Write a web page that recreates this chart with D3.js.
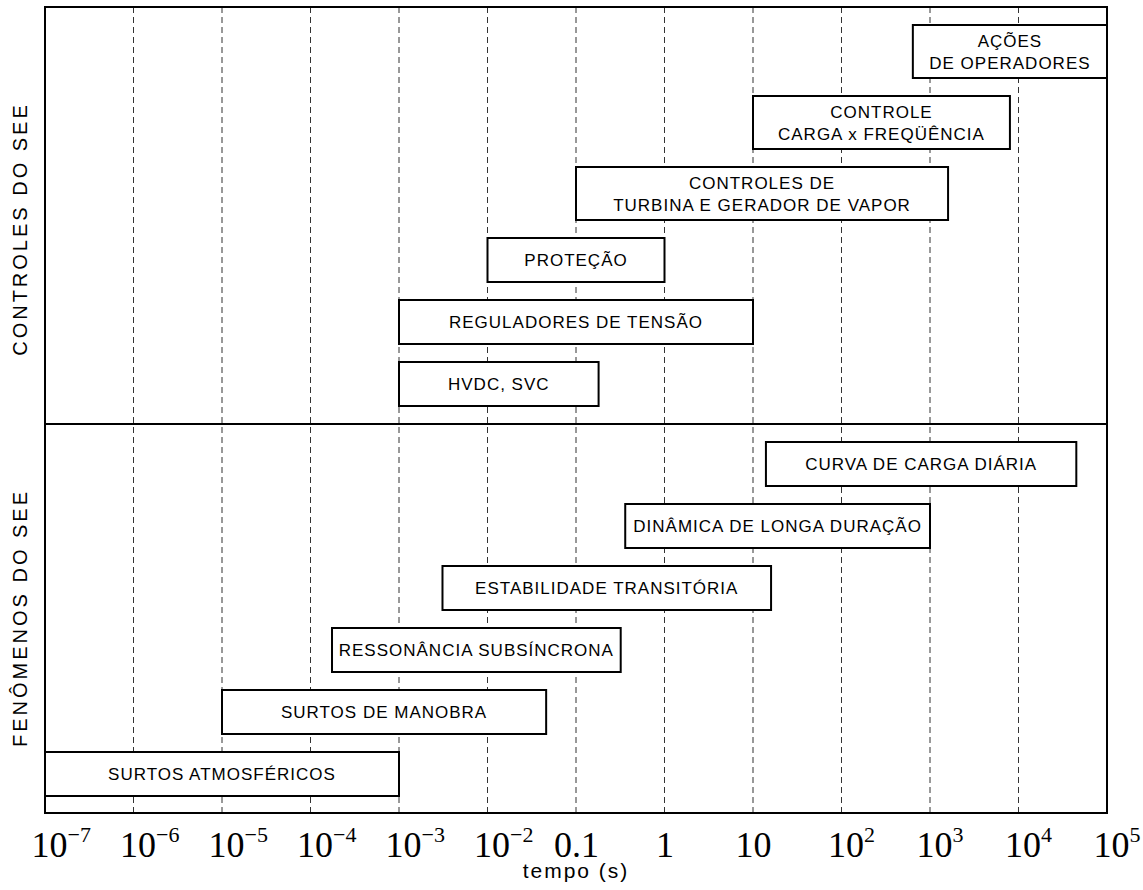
<!DOCTYPE html>
<html>
<head>
<meta charset="utf-8">
<script src="https://cdn.jsdelivr.net/npm/d3@7"></script>
<style>
  body { margin: 0; background: #fff; }
  .box-label { font-family: 'Liberation Sans', Arial, sans-serif; font-size: 17px; letter-spacing: 1px; fill: #000; }
  .side-label { font-family: 'Liberation Sans', Arial, sans-serif; font-size: 20px; letter-spacing: 3px; fill: #000; }
  .tick-label { font-family: 'Liberation Serif', 'Times New Roman', serif; font-size: 36px; fill: #000; }
  .axis-title { font-family: 'Liberation Sans', Arial, sans-serif; font-size: 21px; letter-spacing: 2px; fill: #000; }
</style>
</head>
<body>
<div id="chart"></div>
<script>
// tempo (s), escala logaritmica
const tickValues = [1e-7, 1e-6, 1e-5, 1e-4, 1e-3, 1e-2, 0.1, 1, 10, 1e2, 1e3, 1e4, 1e5]
const tickBase = ['10', '10', '10', '10', '10', '10', '0.1', '1', '10', '10', '10', '10', '10']
const tickExp = ['\u22127', '\u22126', '\u22125', '\u22124', '\u22123', '\u22122', '', '', '', '2', '3', '4', '5']

// controles do SEE (de cima para baixo)
const controlLabels = [
  ['AÇÕES', 'DE OPERADORES'],
  ['CONTROLE', 'CARGA x FREQÜÊNCIA'],
  ['CONTROLES DE', 'TURBINA E GERADOR DE VAPOR'],
  ['PROTEÇÃO'],
  ['REGULADORES DE TENSÃO'],
  ['HVDC, SVC']
]
const controlStart = [640, 10, 0.1, 0.01, 1e-3, 1e-3]
const controlEnd = [1e5, 8000, 1600, 1, 10, 0.18]

// fenomenos do SEE (de cima para baixo)
const phenomLabels = [
  ['CURVA DE CARGA DIÁRIA'],
  ['DINÂMICA DE LONGA DURAÇÃO'],
  ['ESTABILIDADE TRANSITÓRIA'],
  ['RESSONÂNCIA SUBSÍNCRONA'],
  ['SURTOS DE MANOBRA'],
  ['SURTOS ATMOSFÉRICOS']
]
const phenomStart = [14, 0.36, 0.0031, 1.75e-4, 1e-5, 1e-7]
const phenomEnd = [45000, 1000, 16, 0.32, 0.046, 1e-3]

const sectionTitles = ['CONTROLES DO SEE', 'FENÔMENOS DO SEE']

const W = 1143
const H = 890
const plotLeft = 45
const plotRight = 1107
const plotTop = 7
const plotMid = 424
const plotBottom = 813
const gap = 18

const x = d3.scaleLog().domain([1e-7, 1e5]).range([plotLeft, plotRight])

const svg = d3.select('#chart')
  .append('svg')
  .attr('width', W)
  .attr('height', H)

// grade tracejada
svg.append('g')
  .selectAll('line')
  .data(tickValues.slice(1, -1))
  .enter()
  .append('line')
  .attr('x1', (d) => x(d))
  .attr('x2', (d) => x(d))
  .attr('y1', plotTop)
  .attr('y2', plotBottom)
  .style('stroke', '#333')
  .style('stroke-width', 1)
  .style('stroke-dasharray', '6,4')

function boxHeight (lines) {
  return lines.length === 1 ? 44 : 53
}

function drawSection (labels, starts, ends, y0) {
  let y = y0 + gap
  const rows = labels.map((lines, i) => {
    const row = { lines, start: starts[i], end: ends[i], y, h: boxHeight(lines) }
    y += row.h + gap
    return row
  })

  const g = svg.append('g')
  const boxes = g.selectAll('g.box')
    .data(rows)
    .enter()
    .append('g')
    .attr('class', 'box')

  boxes.append('rect')
    .attr('x', (d) => x(d.start))
    .attr('y', (d) => d.y)
    .attr('width', (d) => x(d.end) - x(d.start))
    .attr('height', (d) => d.h)
    .style('fill', '#fff')
    .style('stroke', '#000')
    .style('stroke-width', 2)

  boxes.each(function (d) {
    const cx = (x(d.start) + x(d.end)) / 2
    const cy = d.y + d.h / 2
    const n = d.lines.length
    d.lines.forEach((line, k) => {
      d3.select(this)
        .append('text')
        .attr('class', 'box-label')
        .attr('x', cx)
        .attr('y', cy + 6 + (k - (n - 1) / 2) * 22)
        .attr('text-anchor', 'middle')
        .text(line)
    })
  })
}

drawSection(controlLabels, controlStart, controlEnd, plotTop)
drawSection(phenomLabels, phenomStart, phenomEnd, plotMid)

// moldura
svg.append('rect')
  .attr('x', plotLeft)
  .attr('y', plotTop)
  .attr('width', plotRight - plotLeft)
  .attr('height', plotBottom - plotTop)
  .style('fill', 'none')
  .style('stroke', '#000')
  .style('stroke-width', 2)

svg.append('line')
  .attr('x1', plotLeft)
  .attr('x2', plotRight)
  .attr('y1', plotMid)
  .attr('y2', plotMid)
  .style('stroke', '#000')
  .style('stroke-width', 2)

// titulos laterais
const sideCenters = [229, 618]
svg.selectAll('text.side-label')
  .data(sectionTitles)
  .enter()
  .append('text')
  .attr('class', 'side-label')
  .attr('text-anchor', 'middle')
  .attr('transform', (d, i) => `translate(27, ${sideCenters[i]}) rotate(-90)`)
  .text((d) => d)

// eixo x
const axis = d3.axisBottom(x)
  .tickValues(tickValues)
  .tickSize(0)
  .tickFormat('')

const axisG = svg.append('g')
  .attr('transform', `translate(0, ${plotBottom})`)
  .call(axis)

axisG.select('.domain').remove()
axisG.attr('font-family', null).attr('font-size', null)

axisG.selectAll('.tick').each(function (d, i) {
  const t = d3.select(this).select('text')
    .attr('class', 'tick-label')
    .attr('y', 44)
    .attr('dy', null)
    .attr('text-anchor', 'start')
    .attr('fill', '#000')
  const base = t.append('tspan').text(tickBase[i])
  const w = base.node().getComputedTextLength()
  const shift = tickExp[i] ? 4 : 0
  t.attr('x', -w / 2 + shift)
  if (tickExp[i]) {
    t.append('tspan')
      .attr('dy', -15)
      .style('font-size', '22px')
      .text(tickExp[i])
  }
})

svg.append('text')
  .attr('class', 'axis-title')
  .attr('x', (plotLeft + plotRight) / 2)
  .attr('y', 878)
  .attr('text-anchor', 'middle')
  .text('tempo (s)')
</script>
</body>
</html>
